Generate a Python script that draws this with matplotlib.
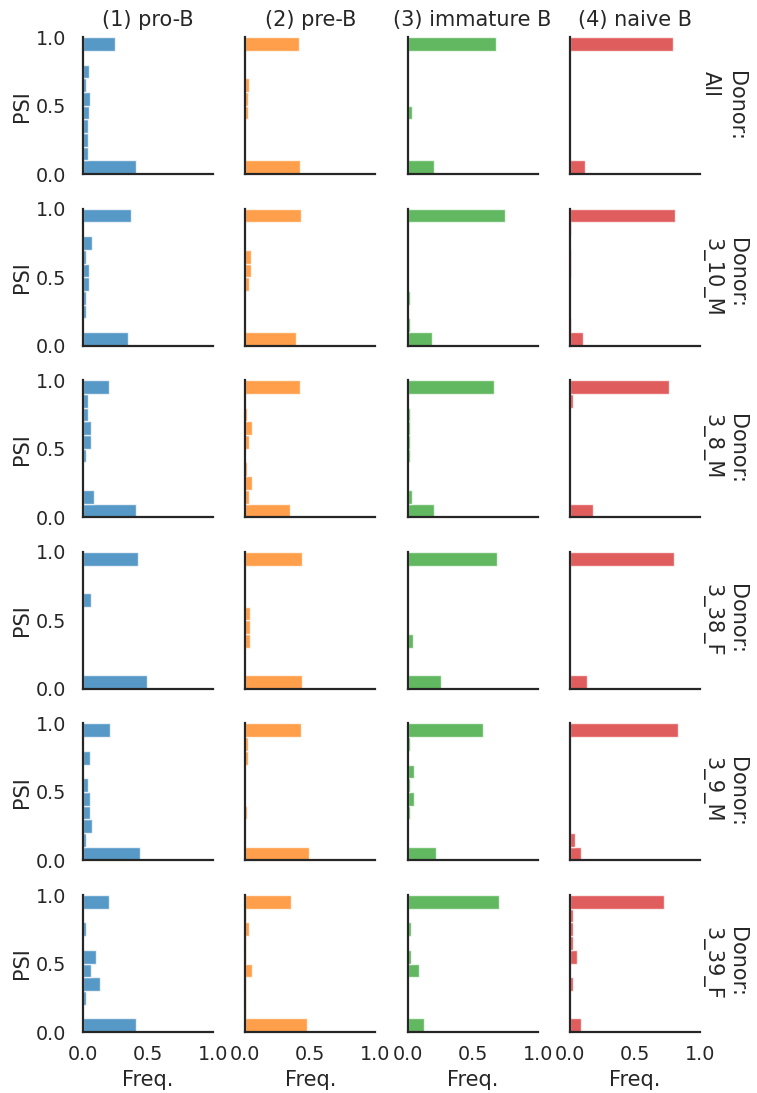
import numpy as np
import matplotlib
matplotlib.use("Agg")
from matplotlib import pyplot as plt
import seaborn as sns

# PSI bins (10 bins of width 0.1), frequency per bin, rows = donors
donors = ["All", "3_10_M", "3_8_M", "3_38_F", "3_9_M", "3_39_F"]
cell_types = ["(1) pro-B", "(2) pre-B", "(3) immature B", "(4) naive B"]
bin_edges = np.linspace(0, 1, 11)

pro_b = [
    [0.41, 0.035, 0.035, 0.04, 0.046, 0.056, 0.025, 0.05, 0.0, 0.25],
    [0.345, 0.0, 0.02, 0.02, 0.05, 0.05, 0.02, 0.07, 0.0, 0.37],
    [0.41, 0.087, 0.0, 0.003, 0.026, 0.06, 0.06, 0.04, 0.04, 0.20],
    [0.49, 0.0, 0.0, 0.0, 0.0, 0.0, 0.065, 0.0, 0.0, 0.42],
    [0.435, 0.023, 0.068, 0.055, 0.055, 0.04, 0.0, 0.055, 0.0, 0.21],
    [0.405, 0.0, 0.026, 0.13, 0.06, 0.097, 0.0, 0.026, 0.0, 0.20],
]
pre_b = [
    [0.42, 0.0, 0.0, 0.0, 0.02, 0.02, 0.025, 0.0, 0.0, 0.41],
    [0.39, 0.0, 0.0, 0.0, 0.03, 0.04, 0.04, 0.0, 0.0, 0.43],
    [0.34, 0.03, 0.055, 0.01, 0.0, 0.03, 0.055, 0.01, 0.0, 0.42],
    [0.435, 0.0, 0.0, 0.035, 0.035, 0.035, 0.0, 0.0, 0.0, 0.435],
    [0.49, 0.0, 0.0, 0.015, 0.0, 0.0, 0.0, 0.02, 0.02, 0.43],
    [0.477, 0.005, 0.005, 0.005, 0.048, 0.005, 0.005, 0.026, 0.005, 0.355],
]
immature_b = [
    [0.20, 0.005, 0.005, 0.005, 0.03, 0.005, 0.005, 0.005, 0.0, 0.68],
    [0.19, 0.02, 0.0, 0.02, 0.0, 0.0, 0.0, 0.0, 0.0, 0.745],
    [0.20, 0.03, 0.0, 0.0, 0.015, 0.015, 0.015, 0.015, 0.0, 0.665],
    [0.255, 0.0, 0.0, 0.04, 0.0, 0.0, 0.0, 0.0, 0.0, 0.687],
    [0.22, 0.0, 0.0, 0.02, 0.045, 0.02, 0.045, 0.0, 0.02, 0.58],
    [0.123, 0.0, 0.0, 0.0, 0.09, 0.026, 0.0, 0.026, 0.0, 0.70],
]
naive_b = [
    [0.115, 0.003, 0.0, 0.0, 0.0, 0.0, 0.0, 0.0, 0.0, 0.79],
    [0.10, 0.005, 0.0, 0.0, 0.0, 0.005, 0.005, 0.0, 0.005, 0.81],
    [0.175, 0.0, 0.0, 0.0, 0.0, 0.0, 0.0, 0.0, 0.022, 0.76],
    [0.13, 0.003, 0.003, 0.003, 0.003, 0.003, 0.003, 0.003, 0.003, 0.80],
    [0.087, 0.035, 0.0, 0.0, 0.0, 0.0, 0.0, 0.0, 0.0, 0.83],
    [0.085, 0.0, 0.0, 0.02, 0.0, 0.05, 0.02, 0.02, 0.02, 0.726],
]
colors = ["#1f77b4", "#ff7f0e", "#2ca02c", "#d62728"]

sns.set_theme(style="white", context="notebook", font_scale=1.25)

fig, axes = plt.subplots(6, 4, figsize=(7.57, 10.93), dpi=100, sharex=True, sharey=True)
fig.subplots_adjust(left=0.1096, right=0.9247, bottom=0.0558, top=0.966,
                    wspace=0.249, hspace=0.253)

centers = (bin_edges[:-1] + bin_edges[1:]) / 2
all_data = [pro_b, pre_b, immature_b, naive_b]

for j, data in enumerate(all_data):
    for i, donor in enumerate(donors):
        ax = axes[i, j]
        ax.barh(centers, data[i], height=0.1, color=colors[j], alpha=0.75,
                edgecolor="white", linewidth=1)
        ax.set_xlim(0, 1)
        ax.set_ylim(0, 1)
        ax.set_xticks([0, 0.5, 1])
        ax.set_yticks([0, 0.5, 1])
        ax.tick_params(axis="y", pad=6)
        ax.spines["top"].set_visible(False)
        ax.spines["right"].set_visible(False)
        for side in ["left", "bottom"]:
            ax.spines[side].set_linewidth(1.6)
            ax.spines[side].set_color(".15")
        if i == 0:
            ax.set_title(cell_types[j], pad=8)
        if j == 0:
            ax.set_ylabel("PSI", labelpad=3)
        if i == 5:
            ax.set_xlabel("Freq.")
        if j == 3:
            # row margin title
            ax.text(1.01, 0.5, "Donor:\n" + donor, transform=ax.transAxes,
                    rotation=270, ha="left", va="center", fontsize=15,
                    linespacing=1.3)

plt.savefig("out.png", dpi=100)
